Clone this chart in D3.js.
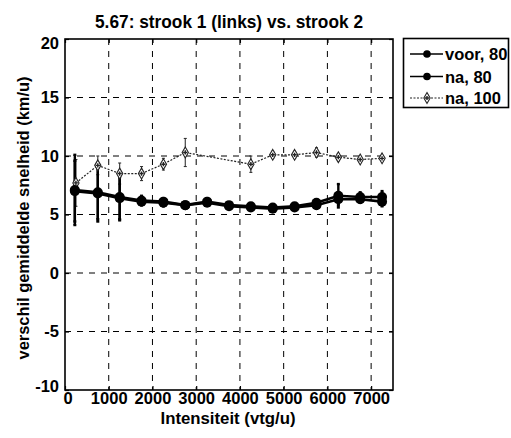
<!DOCTYPE html>
<html><head><meta charset="utf-8">
<script src="https://cdn.jsdelivr.net/npm/d3@7"></script>
<style>body{margin:0;background:#fff}svg{display:block}text{font-family:"Liberation Sans",Arial,sans-serif;font-weight:bold}</style>
</head><body>
<script>
const xBlack = [225, 750, 1250, 1750, 2250, 2750, 3250, 3750, 4250, 4750, 5250, 5750, 6250, 6750, 7250];
const voor80 = [7.1, 6.9, 6.5, 6.2, 6.1, 5.8, 6.1, 5.8, 5.7, 5.6, 5.7, 6.0, 6.6, 6.5, 6.5];
const voor80Err = [3.0, 2.5, 2.0, 0.4, 0.3, 0.2, 0.3, 0.2, 0.2, 0.2, 0.2, 0.3, 1.0, 0.4, 0.5];
const na80 = [7.0, 6.8, 6.4, 6.1, 6.0, 5.8, 6.0, 5.7, 5.6, 5.5, 5.6, 5.8, 6.3, 6.3, 6.1];
const na80Err = [2.6, 2.2, 1.8, 0.3, 0.3, 0.2, 0.2, 0.2, 0.2, 0.2, 0.2, 0.3, 0.5, 0.3, 0.4];
const xNa100 = [250, 750, 1250, 1750, 2250, 2750, 4250, 4750, 5250, 5750, 6250, 6750, 7250];
const na100 = [7.7, 9.2, 8.5, 8.5, 9.3, 10.3, 9.3, 10.1, 10.1, 10.3, 9.9, 9.7, 9.8];
const na100Err = [2.0, 0.8, 0.9, 0.6, 0.5, 1.2, 0.7, 0.3, 0.3, 0.4, 0.3, 0.2, 0.2];
const xTicks = [0, 1000, 2000, 3000, 4000, 5000, 6000, 7000];
const yTicks = [-10, -5, 0, 5, 10, 15, 20];
const legendLabels = ["voor, 80", "na, 80", "na, 100"];

const W = 511, H = 438;
const L = 65, R = 393, T = 39, B = 390;
const svg = d3.select("body").append("svg").attr("width", W).attr("height", H);
const x = d3.scaleLinear().domain([0, 7500]).range([L, R]);
const y = d3.scaleLinear().domain([-10, 20]).range([B, T]);

// grid
const g = svg.append("g");
g.selectAll(".gx").data(xTicks.filter(d => d > 0)).enter().append("line")
  .attr("x1", d => x(d)).attr("x2", d => x(d)).attr("y1", T).attr("y2", B)
  .attr("stroke", "#000").attr("stroke-width", 1).attr("stroke-dasharray", "6,6");
g.selectAll(".gy").data(yTicks.filter(d => d > -10 && d < 20)).enter().append("line")
  .attr("x1", L).attr("x2", R).attr("y1", d => y(d)).attr("y2", d => y(d))
  .attr("stroke", "#000").attr("stroke-width", 1).attr("stroke-dasharray", "6,6");

const fmt = d => String(d);
// axes
const xa = svg.append("g").attr("transform", `translate(0,${B})`)
  .call(d3.axisBottom(x).tickValues(xTicks).tickSize(-4).tickPadding(2).tickFormat(fmt));
const xt = svg.append("g").attr("transform", `translate(0,${T})`)
  .call(d3.axisTop(x).tickValues(xTicks).tickSize(-4).tickFormat(""));
const ya = svg.append("g").attr("transform", `translate(${L},0)`)
  .call(d3.axisLeft(y).tickValues(yTicks).tickSize(-4).tickPadding(6).tickFormat(fmt));
const yr = svg.append("g").attr("transform", `translate(${R},0)`)
  .call(d3.axisRight(y).tickValues(yTicks).tickSize(-4).tickFormat(""));
[xa, xt, ya, yr].forEach(a => { a.select(".domain").remove(); a.selectAll("line").attr("stroke", "#000").attr("stroke-width", 1.2); });
[xa, ya].forEach(a => a.selectAll("text").attr("font-size", 16.5).attr("fill", "#000")
  .attr("font-family", "Liberation Sans").attr("font-weight", "bold"));
xa.selectAll("text").attr("dy", "0.72em");
xa.selectAll(".tick").filter(d => d === 0).select("text").attr("dx", "0.15em");
ya.selectAll(".tick").filter(d => d === -10).select("text").attr("dy", "0.1em");
ya.selectAll(".tick").filter(d => d === 20).select("text").attr("dy", "0.55em");

svg.append("rect").attr("x", L).attr("y", T).attr("width", R - L).attr("height", B - T)
  .attr("fill", "none").attr("stroke", "#000").attr("stroke-width", 1.6);

// error bars
function errbars(xs, ys, es, color, w) {
  const gg = svg.append("g").attr("stroke", color).attr("stroke-width", w);
  xs.forEach((xv, i) => {
    gg.append("line").attr("x1", x(xv)).attr("x2", x(xv)).attr("y1", y(ys[i] - es[i])).attr("y2", y(ys[i] + es[i]));
    [ys[i] - es[i], ys[i] + es[i]].forEach(v => gg.append("line").attr("x1", x(xv) - 1.5).attr("x2", x(xv) + 1.5).attr("y1", y(v)).attr("y2", y(v)));
  });
}
errbars(xNa100, na100, na100Err, "#333", 1.1);
errbars(xBlack, voor80, voor80Err, "#000", 2.4);
errbars(xBlack, na80, na80Err, "#000", 2.4);

const line = d3.line().x(d => x(d[0])).y(d => y(d[1]));
// na, 100
svg.append("path").datum(xNa100.map((v, i) => [v, na100[i]])).attr("d", line)
  .attr("fill", "none").attr("stroke", "#222").attr("stroke-width", 1.2).attr("stroke-dasharray", "2,1.5");
const sym = d3.symbol().type(d3.symbolDiamond).size(34);
function starMarker(sel, cx, cy) {
  sel.append("path").attr("d", sym()).attr("transform", `translate(${cx},${cy})`).attr("fill", "#fff").attr("stroke", "#222").attr("stroke-width", 1.1);
  sel.append("path").attr("d", d3.symbol().type(d3.symbolCross).size(10)()).attr("transform", `translate(${cx},${cy})`).attr("fill", "#222");
}
const m100 = svg.append("g");
xNa100.forEach((v, i) => starMarker(m100, x(v), y(na100[i])));

// black series
[voor80, na80].forEach(ys => {
  svg.append("path").datum(xBlack.map((v, i) => [v, ys[i]])).attr("d", line)
    .attr("fill", "none").attr("stroke", "#000").attr("stroke-width", 2.6);
  svg.append("g").selectAll("circle").data(xBlack).enter().append("circle")
    .attr("cx", d => x(d)).attr("cy", (d, i) => y(ys[i])).attr("r", 5).attr("fill", "#000");
});

// title & labels
svg.append("text").attr("x", 229).attr("y", 28).attr("text-anchor", "middle").attr("font-size", 19)
  .attr("textLength", 268).attr("lengthAdjust", "spacingAndGlyphs").text("5.67: strook 1 (links) vs. strook 2");
svg.append("text").attr("x", 228).attr("y", 424).attr("text-anchor", "middle").attr("font-size", 16)
  .attr("textLength", 135).attr("lengthAdjust", "spacingAndGlyphs").text("Intensiteit (vtg/u)");
svg.append("text").attr("transform", "translate(29,218) rotate(-90)").attr("text-anchor", "middle").attr("font-size", 16.5)
  .attr("textLength", 283).attr("lengthAdjust", "spacingAndGlyphs").text("verschil gemiddelde snelheid (km/u)");

// legend
const lg = svg.append("g");
lg.append("rect").attr("x", 403.5).attr("y", 38.5).attr("width", 105).attr("height", 69).attr("fill", "#fff").attr("stroke", "#000").attr("stroke-width", 1.6);
const ly = [54, 76.5, 98];
legendLabels.forEach((lab, i) => {
  const yy = ly[i];
  if (i < 2) {
    lg.append("line").attr("x1", 410).attr("x2", 443).attr("y1", yy).attr("y2", yy).attr("stroke", "#000").attr("stroke-width", 1.6);
    lg.append("circle").attr("cx", 427).attr("cy", yy).attr("r", 3.8).attr("fill", "#000");
  } else {
    lg.append("line").attr("x1", 410).attr("x2", 443).attr("y1", yy).attr("y2", yy).attr("stroke", "#222").attr("stroke-width", 1.2).attr("stroke-dasharray", "2,1.5");
    starMarker(lg, 427, yy);
  }
  lg.append("text").attr("x", 445).attr("y", yy + 6).attr("font-size", 16.5).text(lab);
});
</script>
</body></html>
